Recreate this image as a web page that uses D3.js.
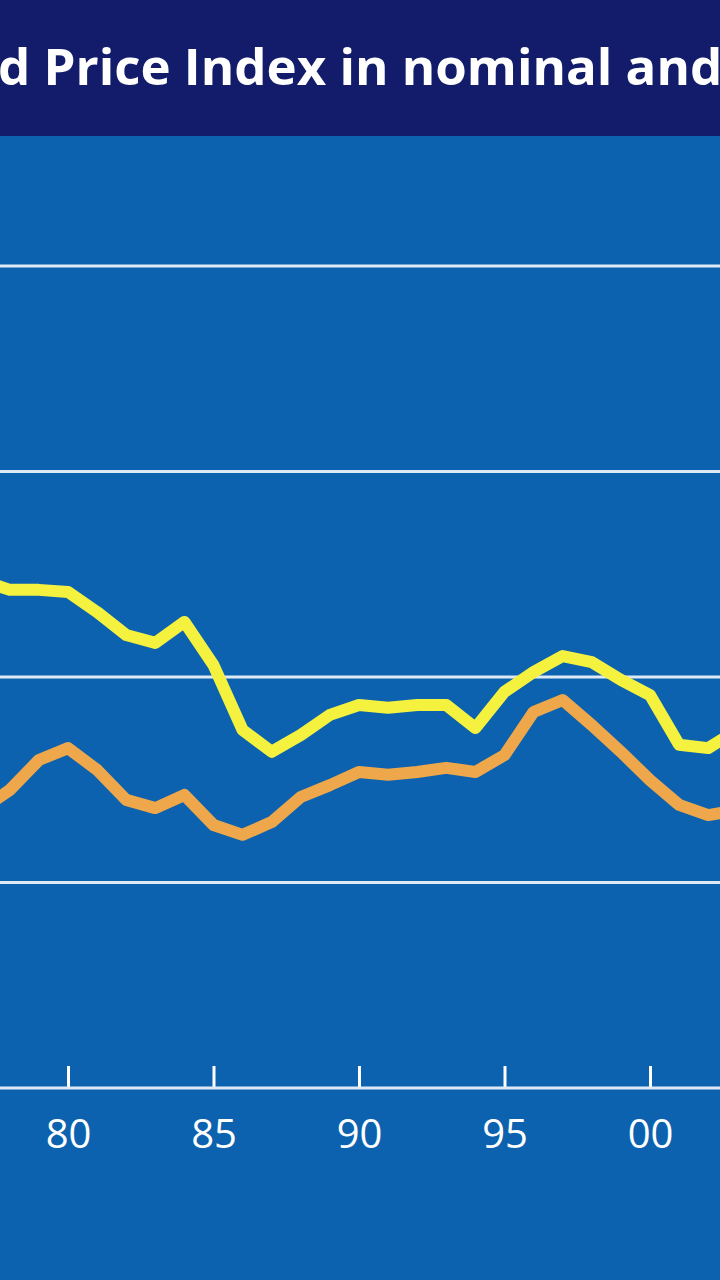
<!DOCTYPE html>
<html><head><meta charset="utf-8">
<script src="https://cdn.jsdelivr.net/npm/d3@7"></script>
<style>body{margin:0;background:#0c62ae;overflow:hidden}</style>
</head><body>
<svg id="chart" width="720" height="1280"></svg>
<script>
// data
var years = d3.range(1977, 2004);
var nominal = [123.6,121.2,121.2,120.7,115.8,110.2,108.3,113.4,102.9,87.1,81.8,85.9,90.8,93.2,92.5,93.2,93.2,87.6,96.4,101.2,105.1,103.6,99.3,95.6,83.5,82.7,87.1];
var real = [67.6,72.5,79.8,82.7,77.4,70.1,68.1,71.3,64.0,61.6,64.7,70.8,73.7,76.9,76.2,76.9,77.9,76.9,81.0,91.5,94.4,88.3,81.8,74.9,68.9,66.4,67.6];
var gridVals = [50, 100, 150, 200];
var tickYears = [1980, 1985, 1990, 1995, 2000];
var tickLabels = ['80', '85', '90', '95', '00'];
var title = 'Food Price Index in nominal and real terms';

var svg = d3.select('#chart');

var x = d3.scaleLinear().domain([1980, 2000]).range([68, 650]);
var y = d3.scaleLinear().domain([0, 200]).range([1088, 266]);

// title band
svg.append('rect').attr('x', 0).attr('y', 0).attr('width', 720).attr('height', 136).attr('fill', '#121c6a');
var t = svg.append('text')
	.attr('y', 85)
	.attr('fill', '#fff')
	.attr('font-family', 'Open Sans')
	.attr('font-weight', 700)
	.attr('font-size', 51)
	.text(title);
// crop so that the 'd' of "Food" sits at the left edge
var probe = svg.append('text').attr('font-family', 'Open Sans').attr('font-weight', 700).attr('font-size', 51).text('Foo');
var off = probe.node().getComputedTextLength();
probe.remove();
t.attr('x', -off - 2);

// grid
svg.append('g').selectAll('line').data(gridVals).enter().append('line')
	.attr('x1', 0).attr('x2', 720)
	.attr('y1', d => y(d)).attr('y2', d => y(d))
	.attr('stroke', '#dfe9f5').attr('stroke-width', 3);

// x axis
var xAxis = d3.axisBottom(x).tickValues(tickYears).tickFormat((d, i) => tickLabels[i]).tickSize(-22).tickPadding(32);
var gx = svg.append('g').attr('transform', `translate(0,${y(0)})`).call(xAxis);
gx.select('.domain').remove();
gx.append('line').attr('x1', 0).attr('x2', 720).attr('stroke', '#dfe9f5').attr('stroke-width', 3);
gx.selectAll('.tick line').attr('stroke', '#fff').attr('stroke-width', 3);
gx.selectAll('.tick text').attr('fill', '#fff').attr('font-family', 'Open Sans').attr('font-size', 40);

var line = d3.line().x((d, i) => x(years[i])).y(d => y(d));

svg.append('path').datum(real).attr('d', line)
	.attr('fill', 'none').attr('stroke', '#eea74a').attr('stroke-width', 12).attr('stroke-linejoin', 'round');
svg.append('path').datum(nominal).attr('d', line)
	.attr('fill', 'none').attr('stroke', '#f4f23e').attr('stroke-width', 12).attr('stroke-linejoin', 'round');
</script>
</body></html>
